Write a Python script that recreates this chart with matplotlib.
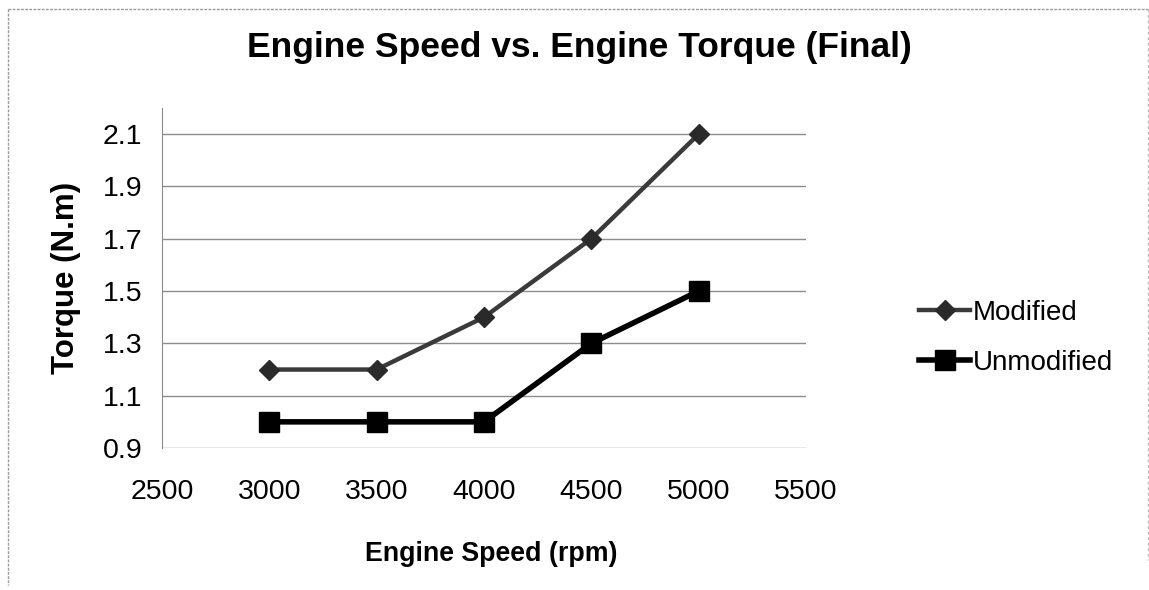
import matplotlib.pyplot as plt
from matplotlib.lines import Line2D

plt.rcParams['font.family'] = ['Liberation Sans', 'DejaVu Sans']

# data
speed = [3000, 3500, 4000, 4500, 5000]
modified = [1.2, 1.2, 1.4, 1.7, 2.1]
unmodified = [1.0, 1.0, 1.0, 1.3, 1.5]
x_ticks = [2500, 3000, 3500, 4000, 4500, 5000, 5500]
y_ticks = [0.9, 1.1, 1.3, 1.5, 1.7, 1.9, 2.1]

fig = plt.figure(figsize=(11.49, 5.90), dpi=100)
ax = fig.add_axes([162/1149, 1-448/590, (806-162)/1149, (448-108)/590])

ax.plot(speed, modified, color="#3a3a3a", lw=3.2, marker="D", markersize=10,
        markerfacecolor="#2a2a2a", markeredgecolor="#2a2a2a", label="Modified")
ax.plot(speed, unmodified, color="black", lw=4, marker="s", markersize=14,
        label="Unmodified")

ax.set_xlim(2500, 5500)
ax.set_ylim(0.9, 2.2)
ax.set_xticks(x_ticks)
ax.set_yticks(y_ticks)
ax.set_yticklabels([f"{v:.1f}" for v in y_ticks])
ax.tick_params(length=0, labelsize=20.5, pad=14)
ax.tick_params(axis="x", pad=22)
ax.yaxis.grid(True, color="#8c8c8c", lw=1)
ax.set_axisbelow(True)
for s in ["top", "right", "bottom"]:
    ax.spines[s].set_visible(False)
ax.spines["left"].set_color("#8c8c8c")

ax.set_xlabel("Engine Speed (rpm)", fontsize=19.3, fontweight="bold", labelpad=26)
ax.xaxis.label.set_x((491-162)/(806-162))
ax.set_ylabel("Torque (N.m)", fontsize=22.5, fontweight="bold", labelpad=16)
fig.text(579/1149, 1-48/590, "Engine Speed vs. Engine Torque (Final)",
         fontsize=25.5, fontweight="bold", ha="center", va="center")

fig.legend(loc="center left", bbox_to_anchor=(894/1149, 1-338/590), frameon=False,
           fontsize=20, handlelength=1.85, handletextpad=0.1, labelspacing=0.85)

# scanned page border
fig.add_artist(Line2D([8/1149, 1148/1149], [1-9/590, 1-9/590], color="#999999", lw=1, ls=(0, (2, 1))))
fig.add_artist(Line2D([8/1149, 8/1149], [1-9/590, 1-585/590], color="#999999", lw=1, ls=(0, (2, 1))))
fig.add_artist(Line2D([1148/1149, 1148/1149], [1-9/590, 1-560/590], color="#bbbbbb", lw=1, ls=(0, (2, 2))))

fig.savefig("out.png", dpi=100)
